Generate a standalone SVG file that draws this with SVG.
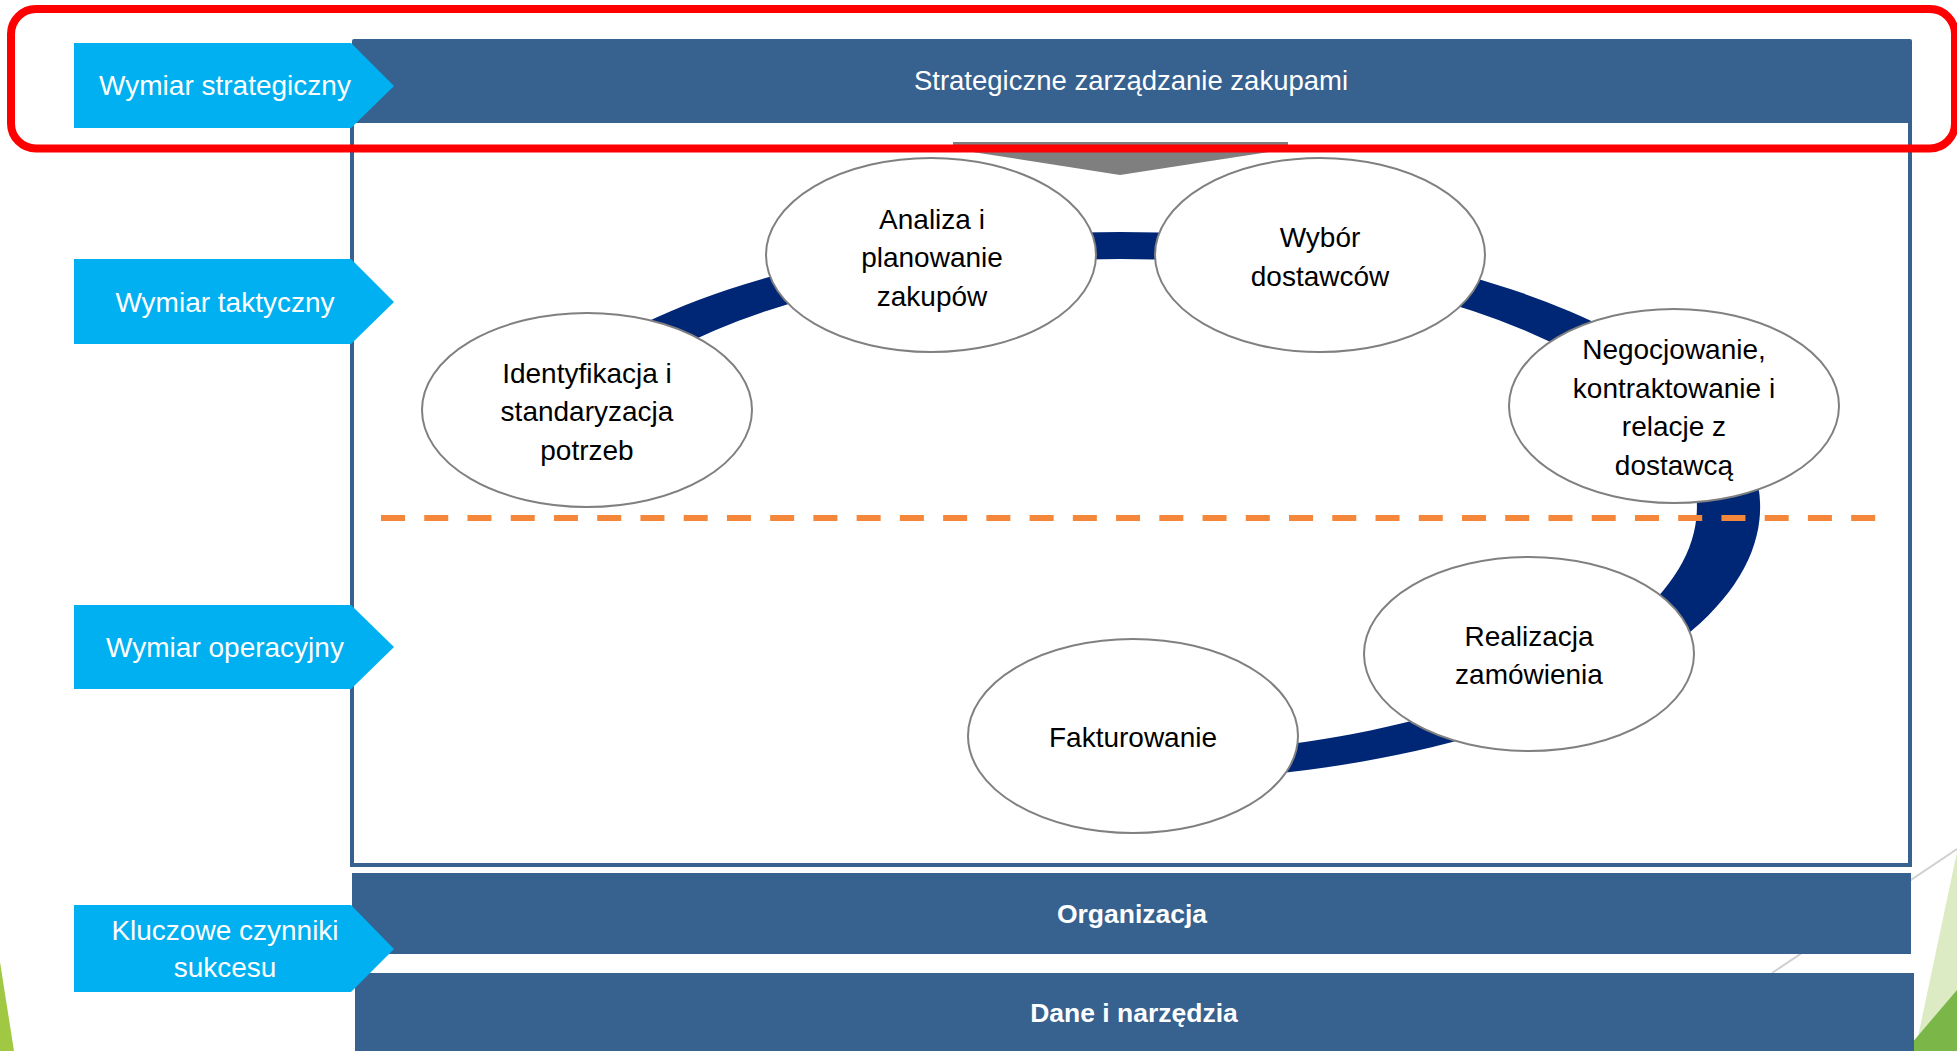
<svg xmlns="http://www.w3.org/2000/svg" width="1957" height="1051" viewBox="0 0 1957 1051">
<style>
.bar{fill:#37618F}
.chev{fill:#00B0F0}
.lbl{font-family:"Liberation Sans",Arial,sans-serif;font-size:28px;fill:#FFFFFF;text-anchor:middle}
.bartxt{font-family:"Liberation Sans",Arial,sans-serif;font-size:27.5px;fill:#FFFFFF;text-anchor:middle}
.bold{font-family:"Liberation Sans",Arial,sans-serif;font-size:26.5px;font-weight:bold;fill:#FFFFFF;text-anchor:middle}
.node{fill:#FFFFFF;stroke:#808080;stroke-width:2}
.ntxt{font-family:"Liberation Sans",Arial,sans-serif;font-size:28px;fill:#000000;text-anchor:middle}
</style>
<rect width="1957" height="1051" fill="#FFFFFF"/>
<g id="decor">
<polygon points="0,962 14,1051 0,1051" fill="#A0C843"/>
<polygon points="1957,852 1915,1051 1957,1051" fill="#DDEBC5"/>
<polygon points="1957,990 1905,1051 1957,1051" fill="#7AB648"/>
<line x1="1957" y1="849" x2="1772" y2="973" stroke="#D0D0D0" stroke-width="2"/>
</g>
<g id="frame">
<rect x="352" y="121" width="1558" height="744" fill="none" stroke="#37618F" stroke-width="4"/>
</g>
<g id="strategic-bar">
<rect class="bar" x="352" y="39" width="1560" height="82" rx="2"/>
<text class="bartxt" x="1131" y="90">Strategiczne zarządzanie zakupami</text>
</g>
<g id="org-bar">
<rect class="bar" x="352" y="873" width="1559" height="81"/>
<text class="bold" x="1132" y="923">Organizacja</text>
</g>
<g id="data-bar">
<rect class="bar" x="355" y="973" width="1559" height="80"/>
<text class="bold" x="1134" y="1022">Dane i narzędzia</text>
</g>
<g id="label-strategic">
<polygon class="chev" points="74,43 351,43 394,86 351,128 74,128"/>
<text class="lbl" x="225" y="95">Wymiar strategiczny</text>
</g>
<g id="label-tactical">
<polygon class="chev" points="74,259 351,259 394,302 351,344 74,344"/>
<text class="lbl" x="225" y="312">Wymiar taktyczny</text>
</g>
<g id="label-operational">
<polygon class="chev" points="74,605 351,605 394,647 351,689 74,689"/>
<text class="lbl" x="225" y="657">Wymiar operacyjny</text>
</g>
<g id="label-ksf">
<polygon class="chev" points="74,905 351,905 394,949 351,992 74,992"/>
<text class="lbl" x="225" y="940">Kluczowe czynniki</text>
<text class="lbl" x="225" y="977">sukcesu</text>
</g>
<g id="connectors">
<polygon points="953,142 1288,142 1288,149 1120,175 953,149" fill="#7F7F7F"/>
<path d="M 620 335.4 A 640 275 0 1 1 1253 776 L 1240 749.6 A 577 248 0 1 0 669 352.3 Z" fill="#002776"/>
<line x1="381" y1="518" x2="1876" y2="518" stroke="#F5873A" stroke-width="6" stroke-dasharray="24 19.24"/>
</g>
<g id="node-identyfikacja">
<ellipse class="node" cx="587" cy="410" rx="165" ry="97"/>
<text class="ntxt" x="587" y="382.5">Identyfikacja i</text>
<text class="ntxt" x="587" y="421">standaryzacja</text>
<text class="ntxt" x="587" y="459.5">potrzeb</text>
</g>
<g id="node-analiza">
<ellipse class="node" cx="931" cy="255" rx="165" ry="97"/>
<text class="ntxt" x="932" y="228.5">Analiza i</text>
<text class="ntxt" x="932" y="267">planowanie</text>
<text class="ntxt" x="932" y="305.5">zakupów</text>
</g>
<g id="node-wybor">
<ellipse class="node" cx="1320" cy="255" rx="165" ry="97"/>
<text class="ntxt" x="1320" y="247">Wybór</text>
<text class="ntxt" x="1320" y="285.5">dostawców</text>
</g>
<g id="node-negocjowanie">
<ellipse class="node" cx="1674" cy="406" rx="165" ry="97"/>
<text class="ntxt" x="1674" y="359.25">Negocjowanie,</text>
<text class="ntxt" x="1674" y="397.75">kontraktowanie i</text>
<text class="ntxt" x="1674" y="436.25">relacje z</text>
<text class="ntxt" x="1674" y="474.75">dostawcą</text>
</g>
<g id="node-realizacja">
<ellipse class="node" cx="1529" cy="654" rx="165" ry="97"/>
<text class="ntxt" x="1529" y="645.75">Realizacja</text>
<text class="ntxt" x="1529" y="684.25">zamówienia</text>
</g>
<g id="node-fakturowanie">
<ellipse class="node" cx="1133" cy="736" rx="165" ry="97"/>
<text class="ntxt" x="1133" y="747">Fakturowanie</text>
</g>
<g id="highlight">
<rect x="11" y="9" width="1944" height="139.5" rx="25" fill="none" stroke="#FF0000" stroke-width="8"/>
</g>
</svg>
